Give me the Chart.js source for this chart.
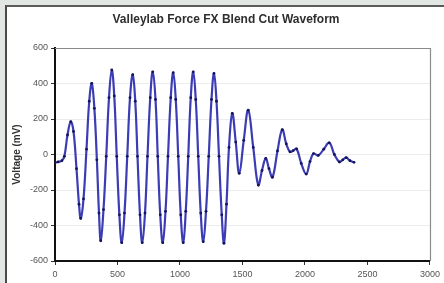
<!DOCTYPE html>
<html>
<head>
<meta charset="utf-8">
<script src="https://cdn.jsdelivr.net/npm/chart.js@4.4.1/dist/chart.umd.min.js"></script>
<style>
  html, body { margin:0; padding:0; }
  body { width:444px; height:283px; background:#e3e7e3; position:relative; overflow:hidden; }
  #frame { position:absolute; left:5px; top:5px; width:460px; height:300px; background:#fff;
           border-left:2px solid #4a4a4a; border-top:2px solid #5a5a5a; }
  #wrap { position:absolute; left:0; top:0; width:444px; height:283px; }
</style>
</head>
<body>
<div id="frame"></div>
<div id="wrap"><canvas id="c" width="444" height="283"></canvas></div>
<script>
const chartTitle = "Valleylab Force FX Blend Cut Waveform";
const yAxisTitle = "Voltage (mV)";
const xTicks = [0, 500, 1000, 1500, 2000, 2500, 3000];
const yTicks = [-600, -400, -200, 0, 200, 400, 600];

// time samples and voltage readings (mV)
const timeValues = [
  0, 25, 55, 75, 100, 126, 148, 172, 192, 206, 228, 252, 274, 294,
  315, 335, 352, 366, 388, 410, 432, 454, 474, 494, 515, 534,
  556, 578, 600, 622, 642, 660, 680, 698, 720, 740, 762, 782,
  804, 822, 842, 862, 884, 904, 926, 946, 966, 986, 1006, 1026,
  1046, 1066, 1086, 1106, 1126, 1146, 1166, 1186, 1208, 1230, 1252, 1272,
  1292, 1312, 1334, 1352, 1372, 1392, 1418, 1446, 1474, 1510, 1546,
  1586, 1626, 1656, 1686, 1712, 1740, 1780, 1818, 1850, 1880, 1906, 1933,
  1970, 2010, 2040, 2068, 2106, 2150, 2194, 2235, 2275, 2302, 2330, 2360, 2392
];
const voltageValues = [
  -45, -42, -35, -10, 110, 185, 130, -80, -280, -360, -250, 30, 300, 401,
  260, -30, -330, -486, -310, -10, 320, 476, 330, -10, -340, -497,
  -330, -10, 320, 450, 300, -10, -340, -497, -330, -10, 320, 466,
  310, -10, -340, -497, -320, -10, 320, 461, 310, -10, -340, -497,
  -320, -10, 320, 466, 310, -10, -330, -491, -320, -10, 310, 457,
  300, -10, -340, -500, -280, 40, 232, 70, -106, 80, 250,
  40, -172, -90, -22, -80, -128, 20, 140, 60, 15, 22, 32,
  -50, -110, -40, 5, -5, 30, 66, 0, -42, -30, -18, -35, -44
];

const points = timeValues.map((t, i) => ({ x: t, y: voltageValues[i] }));

const frameBox = {
  id: 'frameBox',
  beforeDatasetsDraw(chart) {
    const a = chart.chartArea, ctx = chart.ctx;
    ctx.save();
    ctx.strokeStyle = '#8a8a8a';
    ctx.lineWidth = 1.2;
    ctx.beginPath();
    ctx.moveTo(a.left, a.top + 0.5);
    ctx.lineTo(a.right + 0.5, a.top + 0.5);
    ctx.lineTo(a.right + 0.5, a.bottom);
    ctx.stroke();
    ctx.restore();
  },
  afterDraw(chart) {
    const ctx = chart.ctx;
    ctx.save();
    ctx.fillStyle = '#2e2e2e';
    ctx.font = 'bold 12px "Liberation Sans", Arial, sans-serif';
    ctx.textAlign = 'center';
    ctx.textBaseline = 'middle';
    ctx.fillText(chartTitle, 226, 20);
    ctx.restore();
  }
};

new Chart(document.getElementById('c'), {
  type: 'line',
  data: {
    datasets: [{
      data: points,
      borderColor: '#3c3cb4',
      borderWidth: 2.2,
      tension: 0.4,
      pointRadius: 1.4,
      pointBackgroundColor: '#14145a',
      pointBorderWidth: 0,
      fill: false
    }]
  },
  options: {
    responsive: false,
    animation: false,
    devicePixelRatio: 1,
    layout: { padding: { left: 0, right: 14, top: 48, bottom: 0 } },
    plugins: {
      legend: { display: false },
      tooltip: { enabled: false },
      title: { display: false }
    },
    scales: {
      x: {
        type: 'linear',
        min: 0, max: 3000,
        afterBuildTicks(s) { s.ticks = xTicks.map(v => ({ value: v })); },
        afterFit(s) { s.height = 22; },
        ticks: {
          color: '#555',
          font: { family: 'Liberation Sans, Arial, sans-serif', size: 9 },
          padding: 4,
          maxRotation: 0,
          callback: v => String(v)
        },
        grid: { color: 'rgba(0,0,0,0)', tickColor: '#333', tickLength: 4, drawOnChartArea: false },
        border: { display: true, color: '#111', width: 2 }
      },
      y: {
        type: 'linear',
        min: -600, max: 600,
        afterBuildTicks(s) { s.ticks = yTicks.map(v => ({ value: v })); },
        afterFit(s) { s.width = 55; },
        ticks: {
          color: '#555',
          font: { family: 'Liberation Sans, Arial, sans-serif', size: 9 },
          padding: 3,
          callback: v => String(v)
        },
        title: {
          display: true,
          text: yAxisTitle,
          color: '#333',
          font: { family: 'Liberation Sans, Arial, sans-serif', size: 10, weight: 'bold' },
          padding: { top: 11, bottom: 0 }
        },
        grid: { color: '#ececec', tickColor: '#333', tickLength: 4 },
        border: { display: true, color: '#111', width: 2 }
      }
    }
  },
  plugins: [frameBox]
});
</script>
</body>
</html>
